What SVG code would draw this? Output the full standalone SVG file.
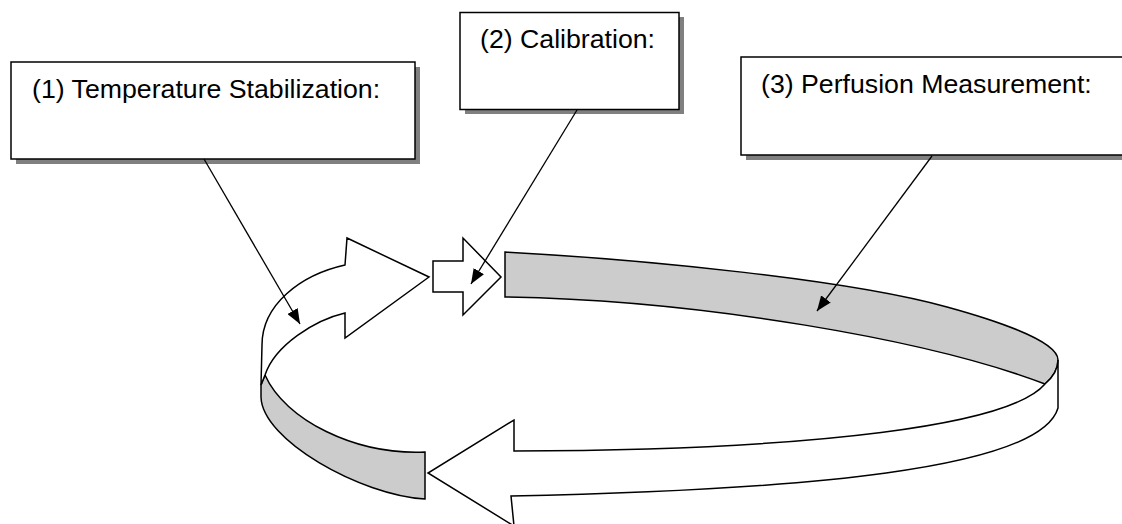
<svg xmlns="http://www.w3.org/2000/svg" width="1122" height="524" viewBox="0 0 1122 524">
<style>
.shadow{fill:#808080}
.box{fill:#fff;stroke:#000;stroke-width:1.5}
.lbl{font-family:"Liberation Sans",Arial,sans-serif;font-size:26.7px;fill:#000}
.gray{fill:#cccccc;stroke:#000;stroke-width:1.5;stroke-linejoin:miter}
.white{fill:#fff;stroke:#000;stroke-width:1.5;stroke-linejoin:miter}
.conn{stroke:#000;stroke-width:1.3;fill:none;marker-end:url(#ah)}
</style>
<defs>
<marker id="ah" markerWidth="16" markerHeight="12" refX="15" refY="6" orient="auto" markerUnits="userSpaceOnUse">
<path d="M0,0 L15,6 L0,12 Z" fill="#000"/>
</marker>
</defs>
<rect width="1122" height="524" fill="#fff"/>
<g id="cycle">
<path class="gray" d="M505,252 C650,260 850,280 947,307 C987,318 1058,340 1058,360 C1058,370 1052,378 1045,384 C930,340 700,300 505,297 Z"/>
<path class="white" d="M1058,360 C1058,370 1052,378 1045,384 C1010,425 820,450 514,451 L514,420 L428,473 L514,526 L511,496 C800,490 1040,470 1058,408 Z"/>
<path class="gray" d="M265,375 C285,420 355,455 425,452 L425,499 C360,495 262,440 261,397 L261,385 Z"/>
<path class="white" d="M261,385 L262,345 C262,305 300,275 345,265 L347,238 L429,277 L345,338 L345,313 C315,320 275,345 265,375 Z"/>
<path class="white" d="M433,261 L463,261 L463,238 L501,277 L463,315 L463,292 L433,292 Z"/>
</g>
<g id="node1">
<rect class="shadow" x="16" y="67" width="404" height="97"/>
<rect class="box" x="11" y="62" width="404" height="97"/>
<text class="lbl" x="32" y="98">(1) Temperature Stabilization:</text>
</g>
<g id="node2">
<rect class="shadow" x="465" y="17" width="219" height="97"/>
<rect class="box" x="460" y="12.5" width="219" height="97"/>
<text class="lbl" x="480" y="48">(2) Calibration:</text>
</g>
<g id="node3">
<rect class="shadow" x="746" y="62" width="400" height="98"/>
<rect class="box" x="741" y="57" width="400" height="98"/>
<text class="lbl" x="761" y="93">(3) Perfusion Measurement:</text>
</g>
<g id="connectors">
<line class="conn" x1="204" y1="159" x2="300" y2="324"/>
<line class="conn" x1="577" y1="110" x2="471" y2="284"/>
<line class="conn" x1="932" y1="156" x2="817" y2="311"/>
</g>
</svg>
